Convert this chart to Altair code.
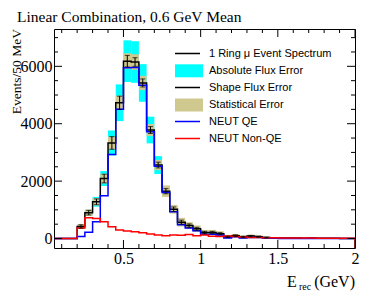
import altair as alt
import pandas as pd

# ---------------- data ----------------
BIN_W = 0.05
BIN_LO = [0.05, 0.10, 0.15, 0.20, 0.25, 0.30, 0.35, 0.40, 0.45, 0.50,
          0.55, 0.60, 0.65, 0.70, 0.75, 0.80, 0.85, 0.90, 0.95, 1.00,
          1.05, 1.10, 1.15, 1.20, 1.25, 1.30, 1.35, 1.40, 1.45, 1.50,
          1.55, 1.60, 1.65, 1.70, 1.75, 1.80, 1.85, 1.90, 1.95]
TOTAL = [0, 0, 0, 420, 900, 1280, 2090, 3330, 4730, 6180,
         6150, 5420, 3780, 2560, 1650, 1020, 570, 450, 340, 210,
         210, 170, 60, 100, 55, 85, 65, 35, 25, 20,
         15, 15, 10, 15, 10, 10, 10, 5, 5]
QE = [0, 0, 0, 70, 220, 585, 1490, 2930, 4500, 5950,
      5960, 5340, 3720, 2520, 1600, 930, 480, 370, 270, 150,
      150, 120, 20, 60, 20, 40, 40, 20, 10, 5,
      5, 5, 5, 5, 5, 5, 5, 5, 5]
NONQE = [0, 0, 0, 370, 720, 700, 585, 410, 300, 260,
         235, 200, 160, 125, 100, 125, 110, 140, 100, 120,
         80, 70, 90, 70, 50, 40, 35, 30, 25, 20,
         20, 15, 15, 15, 10, 10, 10, 10, 10]
ABS_ERR = [0, 0, 0, 40, 100, 170, 260, 435, 640, 725,
           725, 655, 465, 310, 170, 100, 60, 45, 35, 25,
           25, 20, 8, 12, 6, 10, 8, 0, 0, 0,
           0, 0, 0, 0, 0, 0, 0, 0, 0]
STAT_ERR = [0, 0, 0, 80, 115, 130, 170, 220, 250, 275,
            270, 250, 210, 180, 200, 150, 150, 120, 110, 90,
            90, 80, 50, 60, 50, 50, 45, 30, 0, 0,
            0, 0, 0, 0, 0, 0, 0, 0, 0]
SHAPE_ERR = [0, 0, 0, 60, 80, 100, 150, 220, 230, 200,
             150, 140, 120, 100, 90, 80, 70, 60, 50, 40,
             40, 35, 25, 30, 25, 25, 20, 15, 0, 0,
             0, 0, 0, 0, 0, 0, 0, 0, 0]

X_MAJOR = [0.5, 1.0, 1.5, 2.0]
X_MINOR = [0.1, 0.2, 0.3, 0.4, 0.6, 0.7, 0.8, 0.9, 1.1, 1.2, 1.3, 1.4,
           1.6, 1.7, 1.8, 1.9]
Y_MAJOR = [0, 2000, 4000, 6000]
Y_MINOR = [500, 1000, 1500, 2500, 3000, 3500, 4500, 5000, 5500, 6500, 7000]

TITLE = "Linear Combination, 0.6 GeV Mean"
Y_TITLE = "Events/50 MeV"
LEGEND_LABELS = ["1 Ring \u03bc Event Spectrum", "Absolute Flux Error",
                 "Shape Flux Error", "Statistical Error", "NEUT QE",
                 "NEUT Non-QE"]

# ---------------- layout / style ----------------
W, H = 301, 219
X_MIN, X_MAX = 0.05, 2.0
Y_MIN, Y_MAX = -330, 7300
SERIF = "Liberation Serif"
SANS = "Liberation Sans"
CYAN = "#00ffff"
KHAKI = "#cfc88f"

xs = alt.Scale(domain=[X_MIN, X_MAX], nice=False, zero=False)
ys = alt.Scale(domain=[Y_MIN, Y_MAX], nice=False, zero=False)

xaxis = alt.Axis(values=X_MAJOR, format="~g", ticks=False, domain=False,
                 grid=False, labelFont=SERIF, labelFontSize=16,
                 labelColor="black", labelPadding=2, labelFlush=False,
                 labelOverlap=False, title=None)
yaxis = alt.Axis(values=Y_MAJOR, format="d", ticks=False, domain=False,
                 grid=False, labelFont=SERIF, labelFontSize=16,
                 labelColor="black", labelPadding=2, labelOverlap=False,
                 title=None)


def X(field="x"):
    return alt.X(f"{field}:Q", scale=xs, axis=xaxis, title=None)


def Y(field="y"):
    return alt.Y(f"{field}:Q", scale=ys, axis=yaxis, title=None)


bins = pd.DataFrame({"lo": BIN_LO, "total": TOTAL, "abs": ABS_ERR,
                     "stat": STAT_ERR, "shape": SHAPE_ERR})
bins["hi"] = bins["lo"] + BIN_W
bins["mid"] = bins["lo"] + BIN_W / 2


def boxes(err_col):
    d = bins[bins[err_col] > 0]
    return pd.DataFrame({"x": d["lo"], "x2": d["hi"],
                         "y": d["total"] - d[err_col],
                         "y2": d["total"] + d[err_col]})


def steps(values, close_down=False):
    pts = [{"x": lo, "y": v} for lo, v in zip(BIN_LO, values)]
    pts.append({"x": X_MAX, "y": values[-1]})
    if close_down:
        pts.append({"x": X_MAX, "y": Y_MIN})
    return pd.DataFrame(pts)


abs_box = alt.Chart(boxes("abs")).mark_rect(color=CYAN).encode(
    x=X(), x2="x2:Q", y=Y(), y2="y2:Q")
stat_box = alt.Chart(boxes("stat")).mark_rect(color=KHAKI).encode(
    x=X(), x2="x2:Q", y=Y(), y2="y2:Q")


def hist(values, color, close_down=False):
    return alt.Chart(steps(values, close_down)).mark_line(
        color=color, strokeWidth=1.5, interpolate="step-after", clip=True
    ).encode(x=X(), y=Y())


tot_line = hist(TOTAL, "black")
qe_line = hist(QE, "#0000ff")
nqe_line = hist(NONQE, "#ff0000", close_down=True)

sh = bins[bins["shape"] > 0]
err_df = pd.DataFrame({"x": sh["mid"], "y": sh["total"] - sh["shape"],
                       "y2": sh["total"] + sh["shape"]})
err_rule = alt.Chart(err_df).mark_rule(color="black", strokeWidth=1).encode(
    x=X(), y=Y(), y2="y2:Q")
cap_lo = alt.Chart(err_df).mark_tick(color="black", orient="horizontal",
                                     size=5, thickness=1).encode(x=X(), y=Y())
cap_hi = alt.Chart(err_df).mark_tick(color="black", orient="horizontal",
                                     size=5, thickness=1).encode(x=X(), y=Y("y2"))

# ---------------- ROOT-style inward ticks on all four sides ----------------
def xticks(vals, length, top):
    d = pd.DataFrame({"x": vals})
    y0, y1 = (0, length) if top else (H, H - length)
    return alt.Chart(d).mark_rule(color="black", strokeWidth=1).encode(
        x=X(), y=alt.value(y0), y2=alt.value(y1))


def yticks(vals, length, right):
    d = pd.DataFrame({"y": vals})
    x0, x1 = (W, W - length) if right else (0, length)
    return alt.Chart(d).mark_rule(color="black", strokeWidth=1).encode(
        y=Y(), x=alt.value(x0), x2=alt.value(x1))


tick_layers = [xticks(X_MAJOR, 8, False), xticks(X_MINOR, 4, False),
               xticks(X_MAJOR, 8, True), xticks(X_MINOR, 4, True),
               yticks(Y_MAJOR, 8, False), yticks(Y_MINOR, 4, False),
               yticks(Y_MAJOR, 8, True), yticks(Y_MINOR, 4, True)]

# ---------------- legend (drawn inside the frame) ----------------
LEG_Y = [24.5, 41.8, 58.5, 76.0, 92.5, 109.5]
leg = pd.DataFrame({"label": LEGEND_LABELS, "yp": LEG_Y,
                    "kind": ["line", "box", "line", "box", "line", "line"],
                    "col": ["black", CYAN, "black", KHAKI, "#0000ff", "#ff0000"]})
leg["y0"] = leg["yp"] - 6.5
leg["y1"] = leg["yp"] + 6.5
leg_text = alt.Chart(leg).mark_text(
    align="left", baseline="middle", font=SANS, fontSize=11, color="black"
).encode(x=alt.value(155), y=alt.Y("yp:Q", scale=None), text="label:N")
leg_lines = alt.Chart(leg[leg.kind == "line"]).mark_rule(strokeWidth=1.5).encode(
    x=alt.value(121), x2=alt.value(146), y=alt.Y("yp:Q", scale=None),
    color=alt.Color("col:N", scale=None))
leg_boxes = alt.Chart(leg[leg.kind == "box"]).mark_rect().encode(
    x=alt.value(121), x2=alt.value(149), y=alt.Y("y0:Q", scale=None),
    y2="y1:Q", color=alt.Color("col:N", scale=None))

# ---------------- titles as text ----------------
title = alt.Chart(pd.DataFrame({"t": [TITLE]})).mark_text(
    align="left", baseline="alphabetic", font=SERIF, fontSize=15.5,
    color="black").encode(x=alt.value(-37), y=alt.value(-7), text="t:N")
ytitle = alt.Chart(pd.DataFrame({"t": [Y_TITLE]})).mark_text(
    align="right", baseline="alphabetic", angle=270, font=SERIF, fontSize=13.5,
    color="black").encode(x=alt.value(-33.5), y=alt.value(0), text="t:N")
xt_E = alt.Chart(pd.DataFrame({"t": ["E"]})).mark_text(
    align="left", baseline="alphabetic", font=SERIF, fontSize=16,
    color="black").encode(x=alt.value(233), y=alt.value(258), text="t:N")
xt_rec = alt.Chart(pd.DataFrame({"t": ["rec"]})).mark_text(
    align="left", baseline="alphabetic", font=SERIF, fontSize=10,
    color="black").encode(x=alt.value(245), y=alt.value(261), text="t:N")
xt_gev = alt.Chart(pd.DataFrame({"t": ["(GeV)"]})).mark_text(
    align="right", baseline="alphabetic", font=SERIF, fontSize=16,
    color="black").encode(x=alt.value(W), y=alt.value(258), text="t:N")

chart = alt.layer(
    abs_box, stat_box, tot_line, qe_line, nqe_line, err_rule, cap_lo, cap_hi,
    *tick_layers, leg_boxes, leg_lines, leg_text, title, ytitle,
    xt_E, xt_rec, xt_gev
).properties(
    width=W, height=H,
    padding={"left": 46, "top": 21, "right": 10, "bottom": 47},
    autosize=alt.AutoSizeParams(type="none"),
    background="white",
).configure_view(
    stroke="black", strokeWidth=1
).configure_axis(
    labelFont=SERIF, labelFontSize=16, labelColor="black"
)

chart.save("out.html", embed_options={"renderer": "svg", "actions": False})
